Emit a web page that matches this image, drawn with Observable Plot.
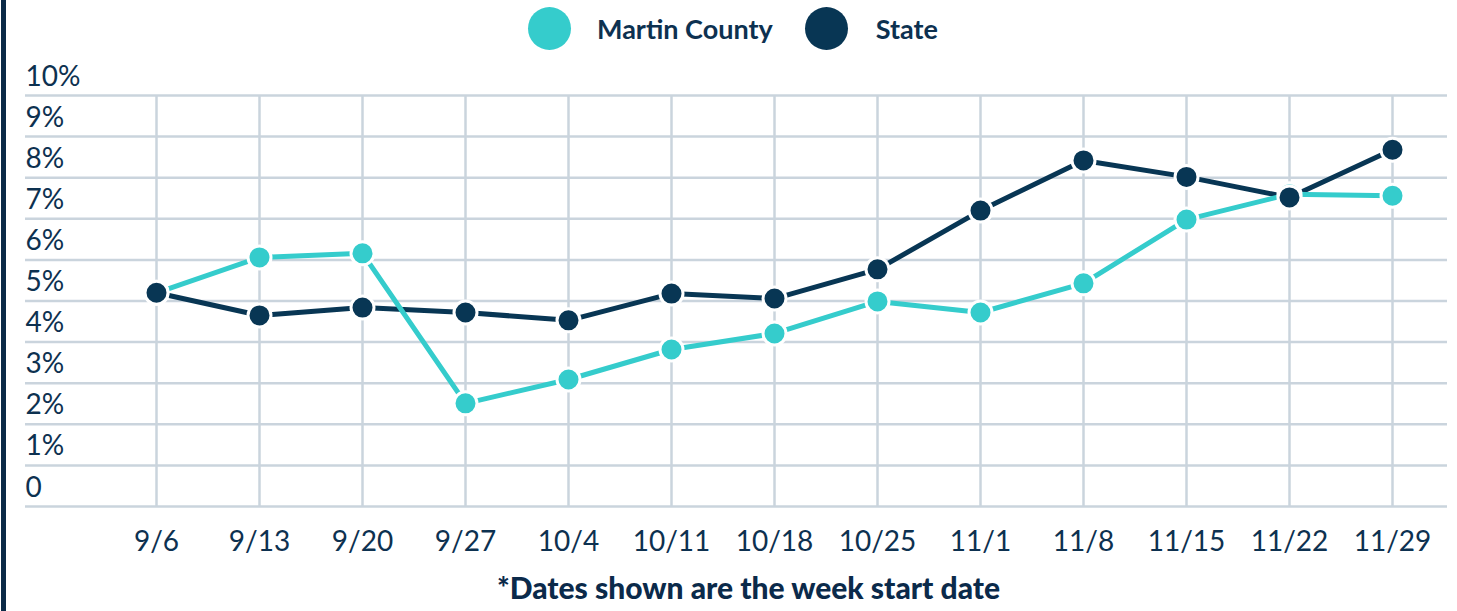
<!DOCTYPE html>
<html>
<head>
<meta charset="utf-8">
<script src="https://cdn.jsdelivr.net/npm/d3@7"></script>
<script src="https://cdn.jsdelivr.net/npm/@observablehq/plot@0.6"></script>
<style>
  html, body { margin: 0; padding: 0; background: #fff; }
  body { width: 1457px; height: 611px; overflow: hidden; font-family: Lato, "Open Sans", sans-serif; color: #0d3150; }
  #wrap { position: relative; width: 1457px; height: 611px; }
  #border { position: absolute; left: 1px; top: 0; width: 5px; height: 611px; background: #0b2a47; }
  #legend { height: 56px; display: flex; align-items: center; justify-content: flex-start; font-weight: 700; font-size: 27px; color: #0d3150; }
  .sw { display: inline-block; width: 43px; height: 43px; border-radius: 50%; }
  #caption { text-align: center; font-weight: 900; font-size: 30px; color: #0b2a4a; margin-top: -1px; padding-left: 40px; line-height: 34px; }
</style>
</head>
<body>
<div id="wrap">
  <div id="border"></div>
  <div id="legend"></div>
  <div id="chart"></div>
  <div id="caption">*Dates shown are the week start date</div>
</div>
<script>
const dates = ["9/6","9/13","9/20","9/27","10/4","10/11","10/18","10/25","11/1","11/8","11/15","11/22","11/29"];
const martinCounty = [5.2, 6.06, 6.16, 2.51, 3.09, 3.82, 4.21, 4.99, 4.72, 5.43, 6.98, 7.6, 7.56];
const state = [5.2, 4.65, 4.84, 4.72, 4.53, 5.18, 5.06, 5.77, 7.2, 8.42, 8.02, 7.52, 8.68];
const yTicks = [0,1,2,3,4,5,6,7,8,9,10];
const yTickLabels = ["0","1%","2%","3%","4%","5%","6%","7%","8%","9%","10%"];
const seriesNames = ["Martin County", "State"];
const seriesColors = ["#35cccc", "#083654"];

const rows = [];
dates.forEach((d, i) => {
  rows.push({date: d, value: martinCounty[i], series: seriesNames[0]});
  rows.push({date: d, value: state[i], series: seriesNames[1]});
});
const mc = rows.filter(r => r.series === seriesNames[0]);
const st = rows.filter(r => r.series === seriesNames[1]);

// legend
const legend = document.getElementById("legend");
legend.innerHTML = `
  <span style="display:inline-block;width:528px"></span>
  <span class="sw" style="background:${seriesColors[0]}"></span>
  <span style="margin-left:26px">${seriesNames[0]}</span>
  <span class="sw" style="background:${seriesColors[1]};margin-left:32px"></span>
  <span style="margin-left:28px">${seriesNames[1]}</span>`;

const textColor = "#0d3150";
const gridColor = "#cad4dd";

const chart = Plot.plot({
  width: 1457,
  height: 515,
  marginLeft: 25,
  marginRight: 10,
  marginTop: 39,
  marginBottom: 65,
  style: { fontFamily: "Lato, 'Open Sans', sans-serif", color: textColor, background: "transparent", overflow: "visible" },
  x: { type: "point", domain: dates, padding: 0, insetLeft: 127, insetRight: 52, axis: null },
  y: { domain: [0, 10], axis: null },
  marks: [
    Plot.ruleY(yTicks, { y: d => d, stroke: gridColor, strokeWidth: 2.5 }),
    Plot.ruleX(dates, { x: d => d, y1: 0, y2: 10, stroke: gridColor, strokeWidth: 2.5 }),
    Plot.text(yTicks, { y: d => d, text: (d, i) => yTickLabels[i], frameAnchor: "left", textAnchor: "start", lineAnchor: "bottom", dy: -10, fontSize: 28, fill: textColor }),
    Plot.text(dates, { x: d => d, text: d => d, frameAnchor: "bottom", lineAnchor: "bottom", dy: 44, fontSize: 28, fill: textColor }),
    Plot.line(st, { x: "date", y: "value", stroke: seriesColors[1], strokeWidth: 5 }),
    Plot.line(mc, { x: "date", y: "value", stroke: seriesColors[0], strokeWidth: 5 }),
    Plot.dot(mc, { x: "date", y: "value", r: 11.5, fill: seriesColors[0], stroke: "white", strokeWidth: 3 }),
    Plot.dot(st, { x: "date", y: "value", r: 11.5, fill: seriesColors[1], stroke: "white", strokeWidth: 3 })
  ]
});
document.getElementById("chart").appendChild(chart);
</script>
</body>
</html>
